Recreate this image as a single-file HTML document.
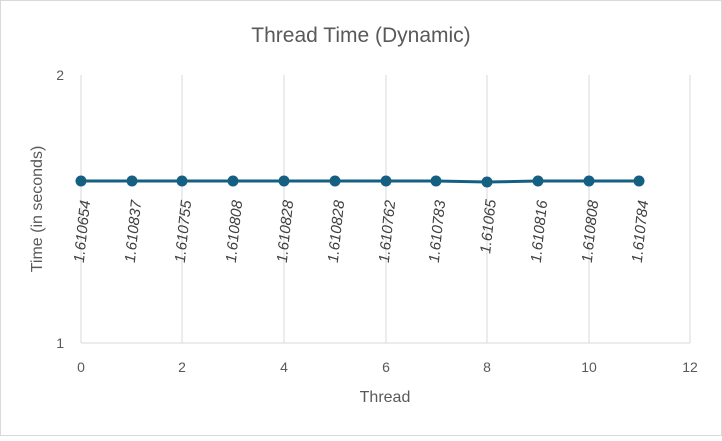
<!DOCTYPE html>
<html><head><style>body{margin:0;background:#fff}</style></head><body>
<svg width="722" height="436" xmlns="http://www.w3.org/2000/svg" font-family="Liberation Sans, sans-serif">
<rect x="0.5" y="0.5" width="721" height="435" fill="#fff" stroke="#d9d9d9"/>
<text x="361" y="42" text-anchor="middle" font-size="21" fill="#595959">Thread Time (Dynamic)</text>
<g stroke="#d9d9d9" stroke-width="1">
<line x1="81" y1="75" x2="81" y2="343"/><line x1="182" y1="75" x2="182" y2="343"/><line x1="284" y1="75" x2="284" y2="343"/><line x1="386" y1="75" x2="386" y2="343"/><line x1="487" y1="75" x2="487" y2="343"/><line x1="589" y1="75" x2="589" y2="343"/><line x1="690" y1="75" x2="690" y2="343"/>
<line x1="81" y1="343" x2="690" y2="343"/>
</g>
<g font-size="14" fill="#595959">
<text x="64" y="80" text-anchor="end">2</text><text x="64" y="348" text-anchor="end">1</text>
<g text-anchor="middle"><text x="81" y="372">0</text><text x="182" y="372">2</text><text x="284" y="372">4</text><text x="386" y="372">6</text><text x="487" y="372">8</text><text x="589" y="372">10</text><text x="690" y="372">12</text></g>
<text x="385" y="402" text-anchor="middle" font-size="16">Thread</text>
<text transform="translate(42,209) rotate(-90)" text-anchor="middle" font-size="16">Time (in seconds)</text>
</g>
<polyline fill="none" stroke="#156082" stroke-width="3" points="81,181 132,181 182,181 233,181 284,181 335,181 386,181 436,181 487,182 538,181 589,181 639,181"/>
<g fill="#156082">
<circle cx="81" cy="181" r="5.5"/><circle cx="132" cy="181" r="5.5"/><circle cx="182" cy="181" r="5.5"/><circle cx="233" cy="181" r="5.5"/><circle cx="284" cy="181" r="5.5"/><circle cx="335" cy="181" r="5.5"/><circle cx="386" cy="181" r="5.5"/><circle cx="436" cy="181" r="5.5"/><circle cx="487" cy="182" r="5.5"/><circle cx="538" cy="181" r="5.5"/><circle cx="589" cy="181" r="5.5"/><circle cx="639" cy="181" r="5.5"/>
</g>
<g font-size="15" fill="#404040" font-style="italic" text-anchor="middle">
<text transform="translate(87,232) rotate(-84)">1.610654</text>
<text transform="translate(138,232) rotate(-84)">1.610837</text>
<text transform="translate(188,232) rotate(-84)">1.610755</text>
<text transform="translate(239,232) rotate(-84)">1.610808</text>
<text transform="translate(290,232) rotate(-84)">1.610828</text>
<text transform="translate(341,232) rotate(-84)">1.610828</text>
<text transform="translate(392,232) rotate(-84)">1.610762</text>
<text transform="translate(442,232) rotate(-84)">1.610783</text>
<text transform="translate(493,227) rotate(-84)">1.61065</text>
<text transform="translate(544,232) rotate(-84)">1.610816</text>
<text transform="translate(595,232) rotate(-84)">1.610808</text>
<text transform="translate(645,232) rotate(-84)">1.610784</text>
</g>
</svg>
</body></html>
